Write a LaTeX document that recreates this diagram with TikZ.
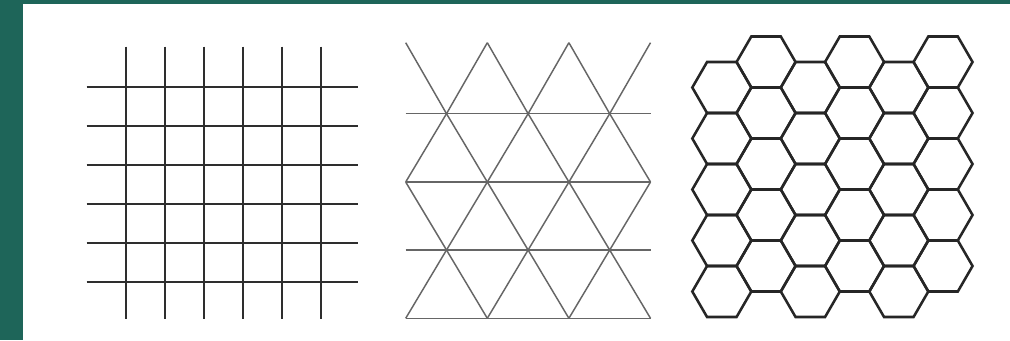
\documentclass[tikz,border=0pt]{standalone}
\usepackage{tikz}
\definecolor{bandteal}{RGB}{30,101,89}

\begin{document}
\begin{tikzpicture}[x=0.75pt, y=-0.75pt,
  sqline/.style={line width=1.7pt, draw=black!82},
  triline/.style={line width=1.1pt, draw=black!60},
  hexline/.style={line width=1.9pt, draw=black!85, line join=miter}]
  % Frame and background
  \useasboundingbox (0,0) rectangle (1010,340);
  \fill[white] (0,0) rectangle (1010,340);
  \fill[bandteal] (0,0) rectangle (1010,4);
  \fill[bandteal] (0,0) rectangle (22.7,340);

  % Square grid
  \foreach \k in {0,...,5} {
    \draw[sqline] ({126.3+38.9*\k},46.7) -- ({126.3+38.9*\k},319.3);
    \draw[sqline] (86.7,{86.7+39*\k}) -- (358.3,{86.7+39*\k});
  }

  % Triangle grid (vertex rows, every other column)
  \foreach \r/\ya/\yb in {0/42.7/113.7, 1/113.7/182, 2/182/250, 3/250/318.3} {
    \foreach \c in {0,...,6} {
      \pgfmathtruncatemacro{\odd}{mod(\c+\r,2)}
      \ifnum\odd=0
        \ifnum\c<6 \draw[triline] ({405.7+40.8*\c},\ya) -- ({405.7+40.8*(\c+1)},\yb); \fi
        \ifnum\c>0 \draw[triline] ({405.7+40.8*\c},\ya) -- ({405.7+40.8*(\c-1)},\yb); \fi
      \fi
    }
    \draw[triline] (405.7,\yb) -- (650.5,\yb);
  }

  % Hexagon grid (6 columns, 5 cells each)
  \foreach \i in {0,...,5} {
    \pgfmathsetmacro{\hx}{721.8+44.25*\i}
    \pgfmathsetmacro{\hy}{87.5-25.5*mod(\i,2)}
    \foreach \j in {0,...,4} {
      \pgfmathsetmacro{\cy}{\hy+51*\j}
      \draw[hexline, shift={(\hx,\cy)}] (-29.5,0) -- (-14.75,-25.5) -- (14.75,-25.5)
        -- (29.5,0) -- (14.75,25.5) -- (-14.75,25.5) -- cycle;
    }
  }
\end{tikzpicture}
\end{document}
